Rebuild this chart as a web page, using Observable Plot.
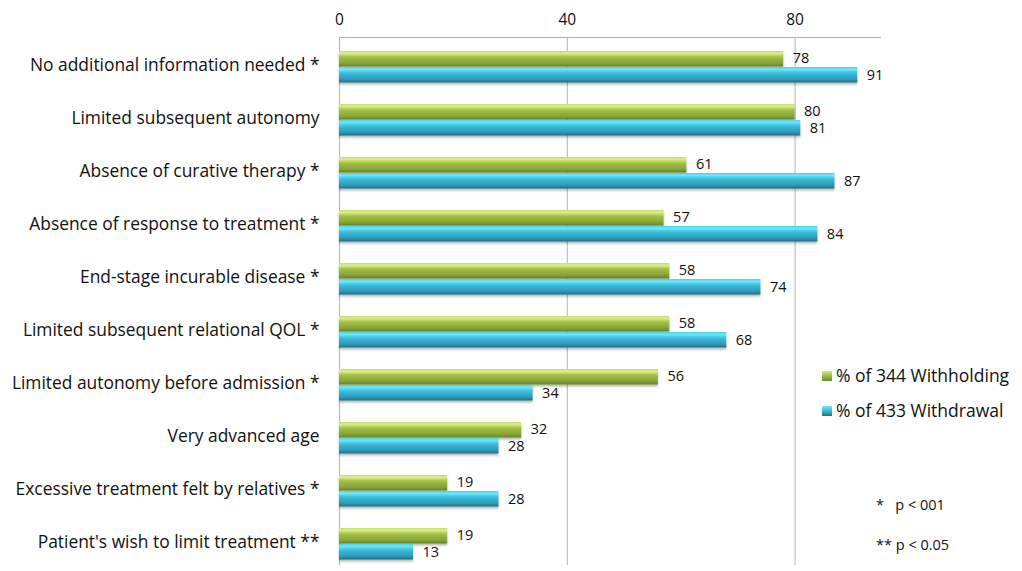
<!DOCTYPE html>
<html>
<head>
<meta charset="utf-8">
<script src="https://cdn.jsdelivr.net/npm/d3@7"></script>
<script src="https://cdn.jsdelivr.net/npm/@observablehq/plot@0.6"></script>
<style>
  html, body { margin: 0; padding: 0; background: #fff; }
  #wrap { position: relative; width: 1022px; height: 571px; font-family: "Open Sans", sans-serif; color: #111; overflow: hidden; }
  .leg { position: absolute; font-size: 17.5px; white-space: nowrap; }
  .sw { display: inline-block; width: 10px; height: 10px; margin-right: 4px; vertical-align: 1px; }
  .note { position: absolute; font-size: 14.5px; white-space: pre; }
</style>
</head>
<body>
<div id="wrap"></div>
<script>
const categories = [
  "No additional information needed *",
  "Limited subsequent autonomy",
  "Absence of curative therapy *",
  "Absence of response to treatment *",
  "End-stage incurable disease *",
  "Limited subsequent relational QOL *",
  "Limited autonomy before admission *",
  "Very advanced age",
  "Excessive treatment felt by relatives *",
  "Patient's wish to limit treatment **"
];
const withholding = [78, 80, 61, 57, 58, 58, 56, 32, 19, 19];
const withdrawal  = [91, 81, 87, 84, 74, 68, 34, 28, 28, 13];
const xTicks = [0, 40, 80];
const seriesNames = ["% of 344 Withholding", "% of 433 Withdrawal"];
const notes = ["*   p < 001", "** p < 0.05"];

const rowsG = categories.map((c, i) => ({category: c, value: withholding[i]}));
const rowsB = categories.map((c, i) => ({category: c, value: withdrawal[i]}));

const plot = Plot.plot({
  width: 1022,
  height: 571,
  marginLeft: 339,
  marginRight: 142,
  marginTop: 37,
  marginBottom: 0,
  style: {fontFamily: "'Open Sans', sans-serif", color: "#111", background: "#fff"},
  x: {domain: [0, 95], axis: null},
  y: {domain: categories, padding: 0, axis: null},
  marks: [
    Plot.ruleX(xTicks, {stroke: "#b4b4b4", strokeWidth: 1, insetBottom: 6}),
    Plot.frame({anchor: "top", stroke: "#b4b4b4"}),
    Plot.axisX(xTicks, {anchor: "top", label: null, tickSize: 0, tickPadding: 13, fontSize: 15.5, tickFormat: d => String(d)}),
    Plot.axisY({anchor: "left", label: null, tickSize: 0, tickPadding: 20, fontSize: 17.4, dy: -1}),
    Plot.barX(rowsG, {y: "category", x: "value", fill: "url(#gradG)", insetTop: 12, insetBottom: 25.5, className: "bars"}),
    Plot.barX(rowsB, {y: "category", x: "value", fill: "url(#gradB)", insetTop: 28, insetBottom: 9.5, className: "bars"}),
    Plot.text(rowsG, {y: "category", x: "value", text: d => String(d.value), dx: 9, dy: -8, textAnchor: "start", fontSize: 14.5, fill: "#111"}),
    Plot.text(rowsB, {y: "category", x: "value", text: d => String(d.value), dx: 9, dy: 9, textAnchor: "start", fontSize: 14.5, fill: "#111"})
  ]
});

const ns = "http://www.w3.org/2000/svg";
const defs = document.createElementNS(ns, "defs");
defs.innerHTML = `
  <linearGradient id="gradG" x1="0" y1="0" x2="0" y2="1">
    <stop offset="0" stop-color="#c6dc6c"/>
    <stop offset="0.15" stop-color="#dcee8a"/>
    <stop offset="0.4" stop-color="#a2bf44"/>
    <stop offset="0.8" stop-color="#86a236"/>
    <stop offset="1" stop-color="#667f26"/>
  </linearGradient>
  <linearGradient id="gradB" x1="0" y1="0" x2="0" y2="1">
    <stop offset="0" stop-color="#48d0ea"/>
    <stop offset="0.15" stop-color="#6ee8fc"/>
    <stop offset="0.4" stop-color="#3bbcdb"/>
    <stop offset="0.8" stop-color="#2d98b6"/>
    <stop offset="1" stop-color="#236a80"/>
  </linearGradient>
  <filter id="shadow" x="-5%" y="-30%" width="110%" height="180%">
    <feDropShadow dx="0" dy="2" stdDeviation="1.3" flood-color="#000" flood-opacity="0.28"/>
  </filter>`;
plot.insertBefore(defs, plot.firstChild);
plot.querySelectorAll("g.bars, g[class*='bars']").forEach(g => g.setAttribute("filter", "url(#shadow)"));

const wrap = document.getElementById("wrap");
wrap.appendChild(plot);

const legCols = [
  "linear-gradient(#d6ea80, #9cbb3e 50%, #6d8a2a)",
  "linear-gradient(#6fe8fc, #3ab9d8 50%, #256f86)"
];
const legTops = [363, 398];
seriesNames.forEach((name, i) => {
  const d = document.createElement("div");
  d.className = "leg";
  d.style.left = "822px";
  d.style.top = legTops[i] + "px";
  d.innerHTML = `<span class="sw" style="background:${legCols[i]}"></span>${name}`;
  wrap.appendChild(d);
});
const noteTops = [495, 535];
notes.forEach((t, i) => {
  const d = document.createElement("div");
  d.className = "note";
  d.style.left = "876px";
  d.style.top = noteTops[i] + "px";
  d.textContent = t;
  wrap.appendChild(d);
});
</script>
</body>
</html>
